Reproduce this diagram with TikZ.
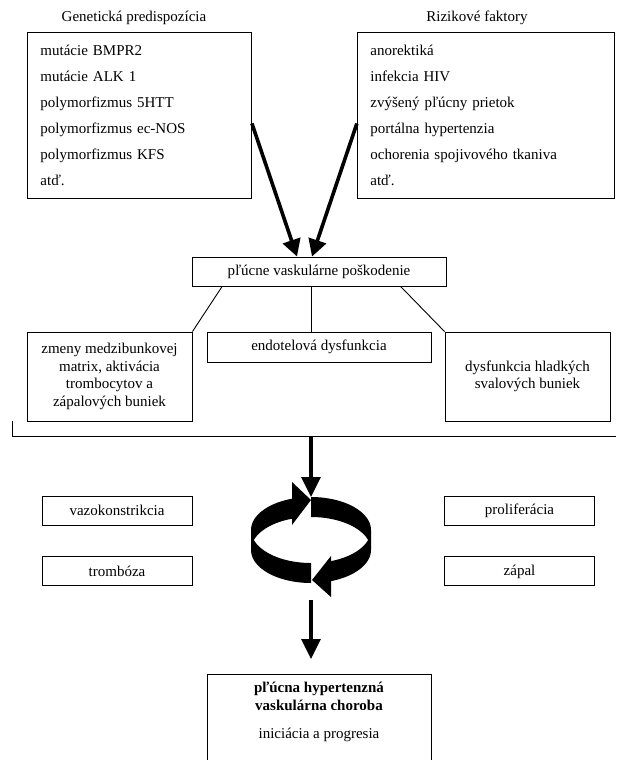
\documentclass[tikz,border=0pt]{standalone}
\usepackage{fontspec}
\setmainfont{Liberation Serif}
\usetikzlibrary{positioning,calc,arrows.meta}

\begin{document}
\begin{tikzpicture}[x=1pt,y=-1pt,
		box/.style={draw,line width=0.9pt,font=\fontsize{15}{17.5}\selectfont,align=center,inner sep=0pt},
		listbox/.style={draw,line width=0.9pt,font=\fontsize{15}{26}\selectfont,align=left,inner xsep=13pt,inner ysep=0pt,minimum height=166pt},
		heading/.style={font=\fontsize{15}{17.5}\selectfont,inner sep=0pt},
		link/.style={line width=0.9pt},
		bigarrow/.style={line width=3.6pt,-{Triangle[length=17pt,width=18pt]}},
		downarrow/.style={line width=3.3pt,-{Triangle[length=20pt,width=19pt]}}]
			\useasboundingbox (0,0) rectangle (616,760);
			\clip (0,0) rectangle (616,760);
			%
			\node[listbox,text width=198pt,anchor=north west] (gen) at (27,32) {mutácie BMPR2\\mutácie ALK 1\\polymorfizmus 5HTT\\polymorfizmus ec-NOS\\polymorfizmus KFS\\atď.};
			\node[listbox,text width=231pt,right=105pt of gen] (rf) {anorektiká\\infekcia HIV\\zvýšený pľúcny prietok\\portálna hypertenzia\\ochorenia spojivového tkaniva\\atď.};
			\node[heading] (genh) at (134,18) {Genetická predispozícia};
			\node[heading] (rfh) at (477,18) {Rizikové faktory};
			%
			\node[box,minimum width=254pt,minimum height=29pt] (pl) at (319,271.5) {pľúcne vaskulárne poškodenie};
			\node[box,minimum width=224pt,minimum height=30pt] (en) at (319,347) {endotelová dysfunkcia};
			\node[box,minimum width=165pt,minimum height=89pt] (zm) at (109.5,376.5) {zmeny medzibunkovej\\matrix, aktivácia\\trombocytov a\\zápalových buniek};
			\node[box,minimum width=165pt,minimum height=89pt] (dy) at (527.5,376.5) {dysfunkcia hladkých\\svalových buniek};
			%
			\draw[bigarrow] ([yshift=-8pt]gen.east) -- ($(pl.north)+(-22,0)$);
			\draw[bigarrow] ([yshift=-8pt]rf.west) -- ($(pl.north)+(-7,0)$);
			\draw[link] ($(pl.south west)!0.12!(pl.south east)$) -- (zm.north east);
			\draw[link] ($(pl.south)+(-8,0)$) -- ($(en.north)+(-8,0)$);
			\draw[link] ($(pl.south west)!0.82!(pl.south east)$) -- (dy.north west);
			%
			\coordinate (brt) at (12,421);
			\coordinate (brc) at (12,436);
			\coordinate (bre) at (616,436);
			\draw[link] (brt) -- (brc) -- (bre);
			%
			\node[box,minimum width=150pt,minimum height=29pt] (vaz) at (117,510.5) {vazokonstrikcia};
			\node[box,minimum width=150pt,minimum height=29pt,below=31pt of vaz] (tro) {trombóza};
			\node[box,minimum width=150pt,minimum height=29pt] (pro) at (519.5,510.5) {proliferácia};
			\node[box,minimum width=150pt,minimum height=29pt,below=31pt of pro] (zap) {zápal};
			%
			\coordinate (cyin) at (311,436);
			\coordinate (cytop) at (311,497);
			\coordinate (cybot) at (311,600);
			\draw[downarrow] (cyin) -- (cytop);
			\begin{scope}
				\clip (240,470) -- (292,470) -- (292,540) -- (311,540) -- (311,610) -- (240,610) -- cycle
				      (311,470) -- (380,470) -- (380,610) -- (331,610) -- (331,540) -- (311,540) -- cycle;
				\fill[even odd rule] (251,530) arc[start angle=180,end angle=0,x radius=60pt,y radius=33pt]
					-- (371,550) arc[start angle=0,end angle=-180,x radius=60pt,y radius=33pt] -- cycle
					(253.82,540) arc[start angle=162.36,end angle=17.64,x radius=60pt,y radius=33pt]
					arc[start angle=-17.64,end angle=-162.36,x radius=60pt,y radius=33pt] -- cycle;
			\end{scope}
			\fill (292,482) -- (292,525) -- (311,500) -- cycle;
			\fill (331,556) -- (331,597) -- (312,580) -- cycle;
			%
			\node[box,minimum width=224pt,minimum height=120pt,anchor=north] (hyp) at (319,674) {};
			\node[heading,align=center] (hyptx) at (319,712) {\textbf{pľúcna hypertenzná}\\\textbf{vaskulárna choroba}\\[11pt]iniciácia a progresia};
			\draw[downarrow,shorten >=15pt] (cybot) -- (hyp.north -| cybot);
		\end{tikzpicture}
\end{document}
